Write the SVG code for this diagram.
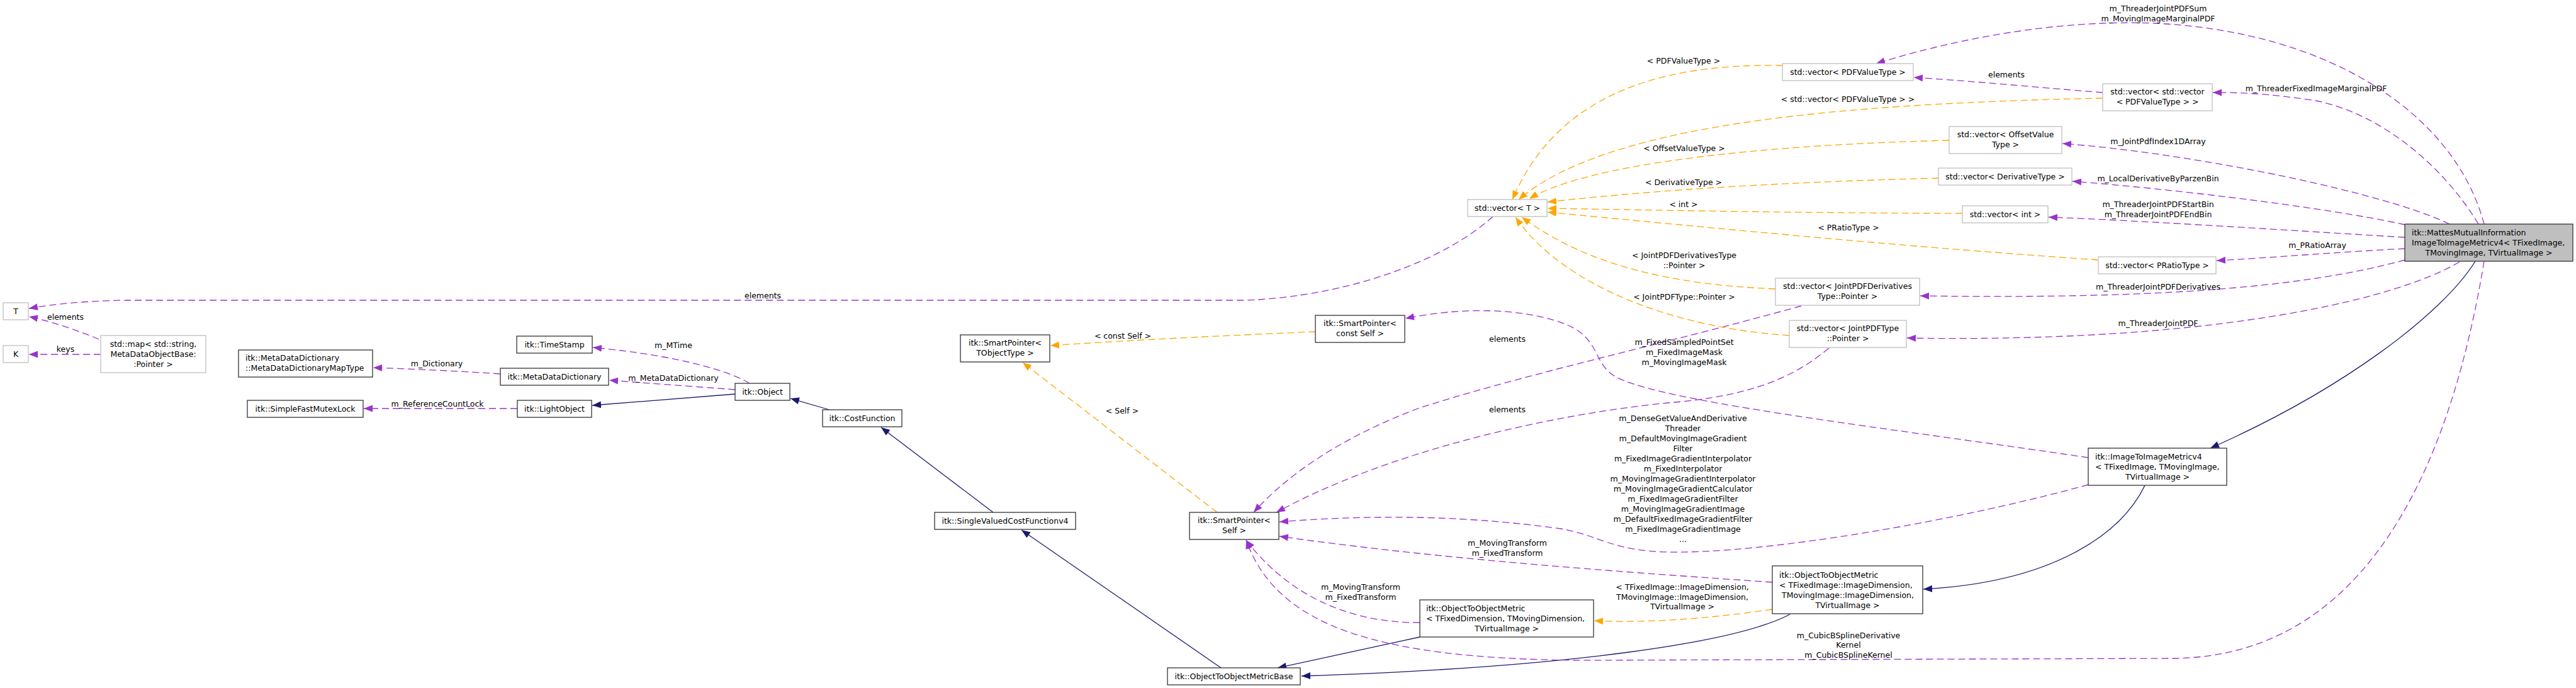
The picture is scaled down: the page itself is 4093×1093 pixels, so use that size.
<svg xmlns="http://www.w3.org/2000/svg" width="4093" height="1093" viewBox="0 0 4093 1093">
<style>
text{font-family:"DejaVu Sans","Liberation Sans",sans-serif;font-size:12.5px;fill:#000}
.c{text-anchor:middle}
.nd rect{fill:#fff;stroke:#333;stroke-width:1.3}
.nd.g rect{stroke:#bfbfbf}
.nd.main rect{fill:#bfbfbf}
.e{fill:none;stroke-width:1.3}
.p{stroke:#9a32cd;stroke-dasharray:11,6;marker-end:url(#ap)}
.o{stroke:#ffa500;stroke-dasharray:11,6;marker-end:url(#ao)}
.b{stroke:#191970;marker-end:url(#ab)}
</style>
<defs>
<marker id="ap" markerUnits="userSpaceOnUse" markerWidth="15" markerHeight="12" refX="14" refY="6" orient="auto"><path d="M0,0.5 L14,6 L0,11.5 z" fill="#9a32cd" stroke="none"/></marker>
<marker id="ao" markerUnits="userSpaceOnUse" markerWidth="15" markerHeight="12" refX="14" refY="6" orient="auto"><path d="M0,0.5 L14,6 L0,11.5 z" fill="#ffa500" stroke="none"/></marker>
<marker id="ab" markerUnits="userSpaceOnUse" markerWidth="15" markerHeight="12" refX="14" refY="6" orient="auto"><path d="M0,0.5 L14,6 L0,11.5 z" fill="#191970" stroke="none"/></marker>
</defs>
<rect width="4093" height="1093" fill="#fff"/>
<g id="connectors">
<path class="e p" d="M157,539 C130,527 80,510 46,503"/>
<path class="e p" d="M160,563 L46,563"/>
<path class="e p" d="M2372,344 C2300,410 2150,470 1980,477 L200,477 C130,478 80,484 46,490"/>
<path class="e p" d="M795,594 C740,590 650,586 593,584"/>
<path class="e p" d="M822,649 L578,649"/>
<path class="e p" d="M1191,609 C1160,590 1080,565 942,552"/>
<path class="e p" d="M1168,619 C1100,614 1020,608 968,604"/>
<path class="e b" d="M1168,626 L941,644"/>
<path class="e b" d="M1318,651 L1256,633"/>
<path class="e b" d="M1578,814 L1400,679"/>
<path class="e b" d="M1940,1061 L1623,842"/>
<path class="e b" d="M2256,1012 L2030,1061"/>
<path class="e b" d="M2844,976 C2760,1020 2500,1060 2068,1074"/>
<path class="e b" d="M3408,771 C3370,850 3260,925 3056,936"/>
<path class="e b" d="M3933,415 C3880,500 3720,620 3512,712"/>
<path class="e p" d="M3947,356 C3900,180 3700,50 3424,37 C3250,30 3080,70 2981,101"/>
<path class="e p" d="M3938,356 C3880,260 3780,180 3680,160 C3600,148 3560,147 3516,147"/>
<path class="e p" d="M3341,147 C3250,140 3150,130 3041,123"/>
<path class="e p" d="M3892,356 C3800,310 3500,245 3277,228"/>
<path class="e p" d="M3821,357 C3700,330 3450,300 3293,288"/>
<path class="e p" d="M3821,377 C3700,370 3400,350 3255,345"/>
<path class="e p" d="M3821,395 C3720,400 3600,410 3522,414"/>
<path class="e p" d="M3821,413 C3650,460 3400,475 3051,470"/>
<path class="e p" d="M3908,416 C3800,480 3500,545 3030,537"/>
<path class="e p" d="M3947,415 C3900,700 3780,1045 3450,1046 L2500,1049 C2200,1045 2030,1000 1980,858"/>
<path class="e p" d="M3318,727 C3000,680 2650,640 2570,600 C2530,580 2545,540 2490,516 C2420,488 2320,488 2233,506"/>
<path class="e p" d="M3318,770 C3100,830 2800,880 2650,877 C2560,875 2540,850 2480,840 C2300,815 2150,820 2033,829"/>
<path class="e p" d="M2816,925 C2600,910 2300,890 2033,852"/>
<path class="e p" d="M2256,989 C2150,990 2050,950 1980,858"/>
<path class="e p" d="M2862,486 C2650,545 2400,600 2250,650 C2120,700 2040,760 1992,814"/>
<path class="e p" d="M2906,553 C2850,600 2780,630 2650,640 C2450,660 2200,720 2028,814"/>
<path class="e o" d="M2090,527 C1950,533 1800,540 1669,549"/>
<path class="e o" d="M1934,814 L1625,576"/>
<path class="e o" d="M2832,104 C2620,100 2470,160 2403,317"/>
<path class="e o" d="M3341,156 C2900,165 2550,200 2413,317"/>
<path class="e o" d="M3097,223 C2800,230 2520,260 2430,316"/>
<path class="e o" d="M3080,283 C2800,290 2600,305 2459,321"/>
<path class="e o" d="M3118,339 C2800,338 2600,333 2459,331"/>
<path class="e o" d="M3334,413 C3000,390 2700,360 2459,337"/>
<path class="e o" d="M2821,459 C2650,452 2520,420 2418,345"/>
<path class="e o" d="M2843,533 C2650,520 2480,450 2408,345"/>
<path class="e o" d="M2816,968 C2700,985 2600,990 2533,986"/>
<text class="c" x="104" y="507.5">elements</text>
<text class="c" x="104" y="558.5">keys</text>
<text class="c" x="1212" y="473.5">elements</text>
<text class="c" x="694" y="581.5">m_Dictionary</text>
<text class="c" x="695" y="645.5">m_ReferenceCountLock</text>
<text class="c" x="1070" y="552.5">m_MTime</text>
<text class="c" x="1070" y="604.5">m_MetaDataDictionary</text>
<text class="c" x="1784" y="537.5">&lt; const Self &gt;</text>
<text class="c" x="1783" y="656.5">&lt; Self &gt;</text>
<text class="c" x="2675" y="100.5">&lt; PDFValueType &gt;</text>
<text class="c" x="2936" y="161.5">&lt; std::vector&lt; PDFValueType &gt; &gt;</text>
<text class="c" x="2676" y="239.5">&lt; OffsetValueType &gt;</text>
<text class="c" x="2675" y="293.5">&lt; DerivativeType &gt;</text>
<text class="c" x="2675" y="328.5">&lt; int &gt;</text>
<text class="c" x="2937" y="365.5">&lt; PRatioType &gt;</text>
<text class="c" x="2676" y="409.5">&lt; JointPDFDerivativesType</text>
<text class="c" x="2676" y="425.5">::Pointer &gt;</text>
<text class="c" x="2676" y="475.5">&lt; JointPDFType::Pointer &gt;</text>
<text class="c" x="3429" y="17.5">m_ThreaderJointPDFSum</text>
<text class="c" x="3429" y="33.5">m_MovingImageMarginalPDF</text>
<text class="c" x="3188" y="122.5">elements</text>
<text class="c" x="3680" y="144.5">m_ThreaderFixedImageMarginalPDF</text>
<text class="c" x="3429" y="228.5">m_JointPdfIndex1DArray</text>
<text class="c" x="3429" y="287.5">m_LocalDerivativeByParzenBin</text>
<text class="c" x="3429" y="328.5">m_ThreaderJointPDFStartBin</text>
<text class="c" x="3429" y="345">m_ThreaderJointPDFEndBin</text>
<text class="c" x="3682" y="393.5">m_PRatioArray</text>
<text class="c" x="3429" y="459.5">m_ThreaderJointPDFDerivatives</text>
<text class="c" x="3429" y="517.5">m_ThreaderJointPDF</text>
<text class="c" x="2676" y="547.5">m_FixedSampledPointSet</text>
<text class="c" x="2676" y="563.5">m_FixedImageMask</text>
<text class="c" x="2676" y="580">m_MovingImageMask</text>
<text class="c" x="2395" y="542.5">elements</text>
<text class="c" x="2395" y="654.5">elements</text>
<text class="c" x="2674" y="668.5">m_DenseGetValueAndDerivative</text>
<text class="c" x="2674" y="684.5">Threader</text>
<text class="c" x="2674" y="700.5">m_DefaultMovingImageGradient</text>
<text class="c" x="2674" y="716.5">Filter</text>
<text class="c" x="2674" y="732.5">m_FixedImageGradientInterpolator</text>
<text class="c" x="2674" y="748.5">m_FixedInterpolator</text>
<text class="c" x="2674" y="764.5">m_MovingImageGradientInterpolator</text>
<text class="c" x="2674" y="780.5">m_MovingImageGradientCalculator</text>
<text class="c" x="2674" y="796.5">m_FixedImageGradientFilter</text>
<text class="c" x="2674" y="812.5">m_MovingImageGradientImage</text>
<text class="c" x="2674" y="828.5">m_DefaultFixedImageGradientFilter</text>
<text class="c" x="2674" y="844.5">m_FixedImageGradientImage</text>
<text class="c" x="2674" y="860.5">...</text>
<text class="c" x="2395" y="867">m_MovingTransform</text>
<text class="c" x="2395" y="883">m_FixedTransform</text>
<text class="c" x="2162" y="936.5">m_MovingTransform</text>
<text class="c" x="2162" y="952.5">m_FixedTransform</text>
<text class="c" x="2673" y="936.5">&lt; TFixedImage::ImageDimension,</text>
<text class="c" x="2673" y="952.5">TMovingImage::ImageDimension,</text>
<text class="c" x="2673" y="967.5">TVirtualImage &gt;</text>
<text class="c" x="2937" y="1013.5">m_CubicBSplineDerivative</text>
<text class="c" x="2937" y="1028.5">Kernel</text>
<text class="c" x="2937" y="1044.5">m_CubicBSplineKernel</text>
</g>
<g id="n_T" class="nd g"><rect x="5" y="481" width="40" height="27"/><text class="c" x="25" y="499">T</text></g>
<g id="n_K" class="nd g"><rect x="5" y="549" width="40" height="27"/><text class="c" x="25" y="567">K</text></g>
<g id="n_map" class="nd g"><rect x="160" y="533" width="167" height="59"/><text class="c" x="243.5" y="550.5">std::map&lt; std::string,</text><text class="c" x="243.5" y="566.5">MetaDataObjectBase:</text><text class="c" x="243.5" y="582.5">:Pointer &gt;</text></g>
<g id="n_mapType" class="nd"><rect x="379" y="556" width="213" height="43"/><text x="390" y="572.5">itk::MetaDataDictionary</text><text x="390" y="588.5">::MetaDataDictionaryMapType</text></g>
<g id="n_mutex" class="nd"><rect x="393" y="636" width="184" height="27"/><text class="c" x="485" y="654">itk::SimpleFastMutexLock</text></g>
<g id="n_timestamp" class="nd"><rect x="821" y="534" width="120" height="27"/><text class="c" x="881" y="552">itk::TimeStamp</text></g>
<g id="n_mdd" class="nd"><rect x="795" y="585" width="172" height="27"/><text class="c" x="881" y="603">itk::MetaDataDictionary</text></g>
<g id="n_lightobject" class="nd"><rect x="822" y="636" width="118" height="27"/><text class="c" x="881" y="654">itk::LightObject</text></g>
<g id="n_object" class="nd"><rect x="1168" y="609" width="87" height="27"/><text class="c" x="1211.5" y="627">itk::Object</text></g>
<g id="n_costfunction" class="nd"><rect x="1307" y="651" width="126" height="27"/><text class="c" x="1370" y="669">itk::CostFunction</text></g>
<g id="n_spT" class="nd"><rect x="1526" y="532" width="142" height="43"/><text class="c" x="1597" y="548.5">itk::SmartPointer&lt;</text><text class="c" x="1597" y="564.5">TObjectType &gt;</text></g>
<g id="n_spConst" class="nd"><rect x="2090" y="501" width="142" height="43"/><text class="c" x="2161" y="517.5">itk::SmartPointer&lt;</text><text class="c" x="2161" y="533.5">const Self &gt;</text></g>
<g id="n_svcf" class="nd"><rect x="1485" y="814" width="224" height="27"/><text class="c" x="1597" y="832">itk::SingleValuedCostFunctionv4</text></g>
<g id="n_spSelf" class="nd"><rect x="1890" y="814" width="142" height="43"/><text class="c" x="1961" y="830.5">itk::SmartPointer&lt;</text><text class="c" x="1961" y="846.5">Self &gt;</text></g>
<g id="n_o2oBase" class="nd"><rect x="1855" y="1061" width="211" height="27"/><text class="c" x="1960.5" y="1079">itk::ObjectToObjectMetricBase</text></g>
<g id="n_o2oDim" class="nd"><rect x="2256" y="953" width="276" height="59"/><text x="2266" y="970.5">itk::ObjectToObjectMetric</text><text x="2266" y="986.5">&lt; TFixedDimension, TMovingDimension,</text><text class="c" x="2394" y="1002.5">TVirtualImage &gt;</text></g>
<g id="n_o2oImg" class="nd"><rect x="2816" y="899" width="239" height="76"/><text x="2827" y="917.5">itk::ObjectToObjectMetric</text><text x="2827" y="933.5">&lt; TFixedImage::ImageDimension,</text><text x="2831" y="949.5">TMovingImage::ImageDimension,</text><text class="c" x="2935.5" y="965.5">TVirtualImage &gt;</text></g>
<g id="n_i2i" class="nd"><rect x="3318" y="712" width="220" height="59"/><text x="3329" y="729.5">itk::ImageToImageMetricv4</text><text x="3329" y="745.5">&lt; TFixedImage, TMovingImage,</text><text class="c" x="3428" y="761.5">TVirtualImage &gt;</text></g>
<g id="n_mattes" class="nd main"><rect x="3821" y="356" width="267" height="59"/><text x="3832" y="373.5">itk::MattesMutualInformation</text><text x="3832" y="389.5">ImageToImageMetricv4&lt; TFixedImage,</text><text class="c" x="3954.5" y="405.5">TMovingImage, TVirtualImage &gt;</text></g>
<g id="n_vecT" class="nd g"><rect x="2332" y="317" width="126" height="27"/><text class="c" x="2395" y="335">std::vector&lt; T &gt;</text></g>
<g id="n_vecPDF" class="nd g"><rect x="2832" y="101" width="208" height="27"/><text class="c" x="2936" y="119">std::vector&lt; PDFValueType &gt;</text></g>
<g id="n_vecvecPDF" class="nd g"><rect x="3341" y="133" width="174" height="43"/><text class="c" x="3428" y="149.5">std::vector&lt; std::vector</text><text class="c" x="3428" y="165.5">&lt; PDFValueType &gt; &gt;</text></g>
<g id="n_vecOffset" class="nd g"><rect x="3097" y="201" width="179" height="43"/><text class="c" x="3186.5" y="217.5">std::vector&lt; OffsetValue</text><text class="c" x="3186.5" y="233.5">Type &gt;</text></g>
<g id="n_vecDeriv" class="nd g"><rect x="3080" y="267" width="212" height="27"/><text class="c" x="3186" y="285">std::vector&lt; DerivativeType &gt;</text></g>
<g id="n_vecInt" class="nd g"><rect x="3118" y="327" width="136" height="27"/><text class="c" x="3186" y="345">std::vector&lt; int &gt;</text></g>
<g id="n_vecPRatio" class="nd g"><rect x="3334" y="408" width="187" height="27"/><text class="c" x="3427.5" y="426">std::vector&lt; PRatioType &gt;</text></g>
<g id="n_vecJPDD" class="nd g"><rect x="2821" y="442" width="229" height="43"/><text class="c" x="2935.5" y="458.5">std::vector&lt; JointPDFDerivatives</text><text class="c" x="2935.5" y="474.5">Type::Pointer &gt;</text></g>
<g id="n_vecJPD" class="nd g"><rect x="2843" y="509" width="186" height="43"/><text class="c" x="2936" y="525.5">std::vector&lt; JointPDFType</text><text class="c" x="2936" y="541.5">::Pointer &gt;</text></g>
</svg>
